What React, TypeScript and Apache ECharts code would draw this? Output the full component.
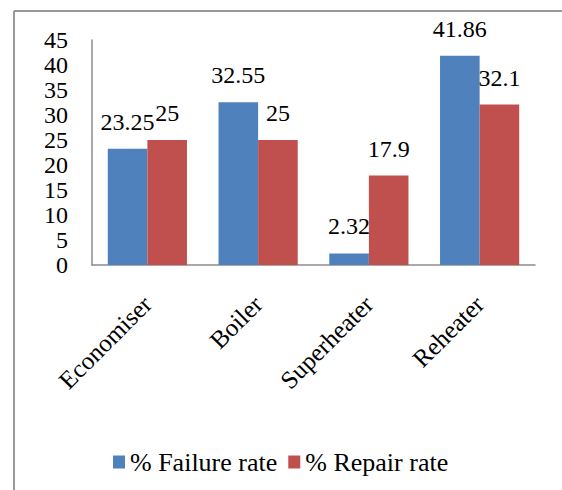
import React, { useEffect, useRef } from "react";
import * as echarts from "echarts";

const categories = ["Economiser", "Boiler", "Superheater", "Reheater"];
const failureRate = [23.25, 32.55, 2.32, 41.86];
const repairRate = [25, 25, 17.9, 32.1];
const seriesNames = ["% Failure rate", "% Repair rate"];

const FONT = "Liberation Serif";

export default function App() {
  const ref = useRef<HTMLDivElement>(null);
  useEffect(() => {
    if (!ref.current) return;
    const chart = echarts.init(ref.current, null, { renderer: "svg" });
    const mkLabel = () => ({
      show: true,
      position: "top",
      distance: 15,
      fontFamily: FONT,
      fontSize: 24,
      color: "#000",
    });
    chart.setOption({
      animation: false,
      backgroundColor: "#fff",
      textStyle: { fontFamily: FONT, fontSize: 24 },
      grid: { left: 92, top: 40, right: 27, bottom: 225 },
      legend: {
        left: 108,
        top: 444,
        itemWidth: 12,
        itemHeight: 13,
        itemGap: 11,
        icon: "rect",
        textStyle: { fontFamily: FONT, fontSize: 26, color: "#000" },
        data: seriesNames,
      },
      xAxis: {
        type: "category",
        data: categories,
        axisLine: { lineStyle: { color: "#8c8c8c", width: 1.5 } },
        axisTick: { show: false },
        axisLabel: {
          interval: 0,
          rotate: 45,
          margin: 35,
          fontFamily: FONT,
          fontSize: 25,
          color: "#000",
        },
      },
      yAxis: {
        type: "value",
        min: 0,
        max: 45,
        interval: 5,
        axisLine: { show: true, lineStyle: { color: "#8c8c8c", width: 1.5 } },
        axisTick: { show: false },
        splitLine: { show: false },
        axisLabel: {
          margin: 24,
          fontFamily: FONT,
          fontSize: 24,
          color: "#000",
        },
      },
      graphic: [
        {
          type: "line",
          shape: { x1: 14, y1: 11, x2: 562, y2: 11 },
          style: { stroke: "#999", lineWidth: 2 },
        },
        {
          type: "line",
          shape: { x1: 14, y1: 11, x2: 14, y2: 490 },
          style: { stroke: "#999", lineWidth: 2 },
        },
      ],
      series: [
        {
          name: seriesNames[0],
          type: "bar",
          data: failureRate,
          barGap: "0%",
          barCategoryGap: "28.5%",
          itemStyle: { color: "#4F81BD" },
          label: mkLabel(),
        },
        {
          name: seriesNames[1],
          type: "bar",
          data: repairRate,
          itemStyle: { color: "#C0504D" },
          label: mkLabel(),
        },
      ],
    });
    return () => chart.dispose();
  }, []);
  return (
    <div
      ref={ref}
      style={{ position: "fixed", left: 0, top: 0, width: 562, height: 490 }}
    />
  );
}
